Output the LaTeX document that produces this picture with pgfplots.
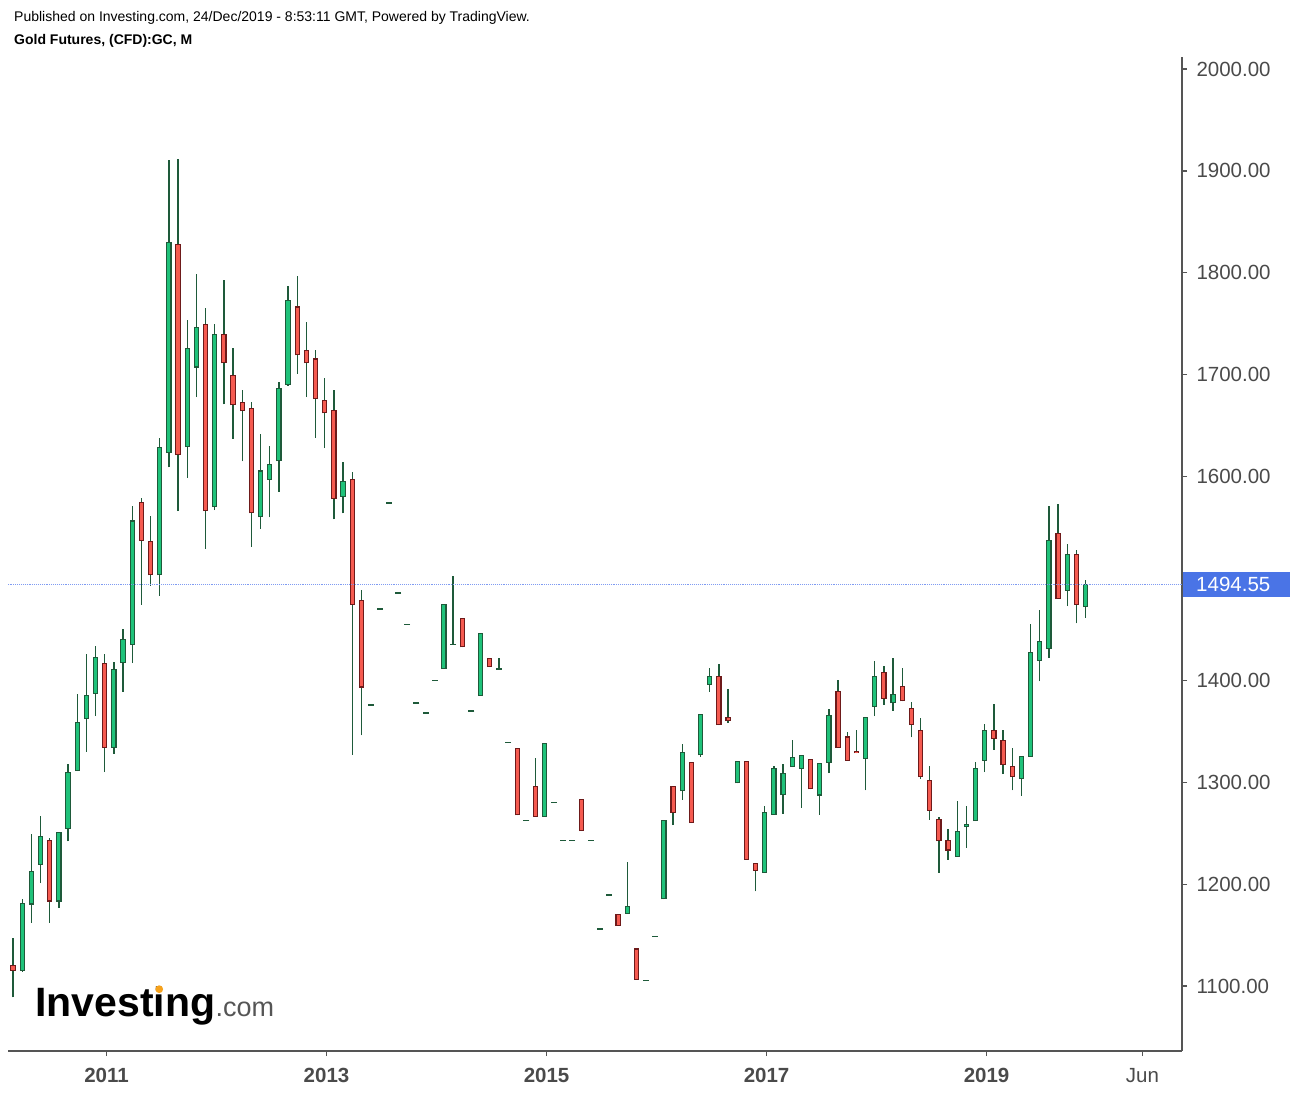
\documentclass[border=0pt]{standalone}
\usepackage{fontspec}
\setmainfont{Liberation Sans}
\usepackage{pgfplots}
\usepackage{pgfplotstable}
\pgfplotsset{compat=1.18}
\definecolor{wickc}{HTML}{1E5A3A}
\definecolor{upfill}{HTML}{1FC27A}
\definecolor{dnfill}{HTML}{F55A50}
\definecolor{dnedge}{HTML}{6E1A1A}
\definecolor{axgray}{HTML}{555555}
\definecolor{labgray}{HTML}{4A4A4A}
\definecolor{pricebl}{HTML}{4A74E6}
\definecolor{linebl}{HTML}{7F9BF2}
\definecolor{logoor}{HTML}{F7A21B}

% k = candle index (0 = Mar 2010, 117 = Dec 2019)
\pgfplotstableread{
k o h l c
1 1115 1185 1114 1182
2 1180 1249 1162 1213
3 1219 1267 1201 1247
5 1183 1251 1177 1251
6 1254 1318 1242 1310
7 1311 1387 1311 1359
8 1362 1426 1330 1386
9 1387 1434 1365 1423
11 1334 1418 1328 1411
12 1417 1450 1389 1441
13 1435 1571 1417 1557
16 1503 1638 1483 1629
17 1623 1911 1609 1830
19 1629 1754 1599 1726
20 1707 1799 1678 1747
22 1570 1750 1567 1740
27 1560 1642 1549 1606
28 1597 1630 1560 1612
29 1615 1693 1585 1687
30 1690 1787 1689 1773
36 1580 1614 1564 1596
47 1411 1475 1411 1475
51 1385 1447 1385 1447
58 1266 1339 1266 1339
67 1171 1222 1171 1178.6
71 1185 1263 1185 1263
73 1291 1338 1283 1329.5
75 1326.5 1367 1325 1367
76 1395.5 1412 1389 1404
79 1299 1321 1299 1321
82 1211 1277 1211 1271
83 1268 1316 1268 1314
84 1287.5 1318 1269 1309.5
85 1315 1341.5 1315 1325
86 1313 1327 1275 1327
88 1287 1319 1268 1319
89 1319 1372 1309 1366
93 1323 1364 1292 1364
94 1374 1419 1365 1404
96 1377.5 1422 1370 1386.6
103 1227 1282 1227 1252.5
104 1256 1277 1236 1259
105 1262 1320 1262 1314
106 1321 1357 1310 1351
110 1303 1325.5 1287 1325.5
111 1325 1455 1325 1428
112 1419 1469 1399 1439
113 1430.5 1571 1422 1537.5
115 1488 1534 1473 1524
117 1472 1498.5 1461.5 1494.55
}\updata

\pgfplotstableread{
k o h l c
0 1121 1147 1089 1115
4 1243 1245 1162 1183
10 1417 1426 1310 1334
14 1575 1579 1474 1537
15 1537 1561 1493 1503
18 1828 1912 1566 1621
21 1750 1765 1529 1566
23 1740 1793 1671 1711
24 1700 1726 1637 1670
25 1673 1685 1615 1664
26 1667 1673 1531 1564
31 1767 1797 1701 1719
32 1724 1752 1678 1711
33 1716 1724 1638 1676
34 1675 1697 1628 1662
35 1665 1685 1558 1578
37 1598 1605 1327 1474
38 1479 1489 1346 1393
49 1461 1461 1432.5 1432.5
52 1422 1422 1413 1413
55 1333.5 1333.5 1267.6 1267.6
57 1296 1324 1266 1266
62 1284 1284 1252 1252
66 1171 1171 1159 1159
68 1137 1137 1106 1106
72 1296 1296 1258 1270
74 1320 1320 1260 1260
77 1404 1416 1356 1356
78 1364 1392 1358 1360
80 1321 1321 1224 1224
81 1221 1221 1193 1213
87 1323 1323 1293 1293
90 1390 1400 1334 1334
91 1345 1349 1321 1321
92 1331 1351 1328.5 1328.5
95 1408 1414 1376 1381.5
97 1394.5 1412 1379.5 1379.5
98 1373 1379 1344 1356
99 1351 1363 1303 1305
100 1302 1316 1263 1272
101 1264 1266 1211 1242
102 1243 1254.5 1224 1233
107 1351 1377 1332 1342
108 1341.5 1351 1308 1317
109 1316 1334 1292 1305
114 1545 1573 1480 1480
116 1524 1528 1456 1474
}\dndata

\pgfplotstableread{
k v h
39 1376 1376
40 1470 1470
41 1574 1574
42 1486 1486
43 1455 1455
44 1378 1378
45 1368 1368
46 1400 1400
48 1435 1502.5
50 1370 1370
53 1411 1422
54 1339 1339
56 1262.4 1262.4
59 1280 1280
60 1242.7 1242.7
61 1242.7 1242.7
63 1242.7 1242.7
64 1156 1156
65 1189.4 1189.4
69 1105.4 1105.4
70 1148.6 1148.6
}\flatdata

\begin{document}
\begin{tikzpicture}[x=1bp,y=1bp]
\begin{axis}[
  at={(8bp,43bp)}, anchor=south west,
  width=1174bp, height=994bp, scale only axis,
  xmin=-0.549, xmax=127.52, ymin=1036.3, ymax=2011.8,
  axis x line*=bottom, axis y line*=right,
  axis line style={draw=axgray, line width=1.6bp},
  tick align=outside, major tick length=5bp,
  every tick/.style={draw=axgray, line width=1.3bp},
  xtick={10.2,34.2,58.2,82.2,106.2,123.2},
  xticklabels={2011,2013,2015,2017,2019,\mdseries Jun},
  xticklabel style={font=\fontsize{20.5bp}{24bp}\selectfont\bfseries, text=labgray, yshift=-9bp},
  ytick={1100,1200,1300,1400,1500,1600,1700,1800,1900,2000},
  yticklabels={1100.00,1200.00,1300.00,1400.00,,1600.00,1700.00,1800.00,1900.00,2000.00},
  yticklabel style={font=\fontsize{20.5bp}{24bp}\selectfont, text=labgray, anchor=west, xshift=6bp},
  minor tick num=0,
]
% wicks
\addplot[draw=none, mark=none, forget plot, error bars/.cd, y dir=plus, y explicit, error mark=none,
  error bar style={draw=wickc, line width=1.3bp}]
  table[x=k, y=l, y error plus expr=\thisrow{h}-\thisrow{l}] {\updata};
\addplot[draw=none, mark=none, forget plot, error bars/.cd, y dir=plus, y explicit, error mark=none,
  error bar style={draw=wickc, line width=1.3bp}]
  table[x=k, y=l, y error plus expr=\thisrow{h}-\thisrow{l}] {\dndata};
\addplot[draw=none, mark=none, forget plot, error bars/.cd, y dir=plus, y explicit, error mark=none,
  error bar style={draw=wickc, line width=1.3bp}]
  table[x=k, y=v, y error plus expr=\thisrow{h}-\thisrow{v}] {\flatdata};
% bodies: outline
\addplot[draw=none, mark=none, forget plot, error bars/.cd, y dir=plus, y explicit, error mark=none,
  error bar style={draw=wickc, line width=5.4bp}]
  table[x=k, y=o, y error plus expr=\thisrow{c}-\thisrow{o}] {\updata};
\addplot[draw=none, mark=none, forget plot, error bars/.cd, y dir=plus, y explicit, error mark=none,
  error bar style={draw=dnedge, line width=5.4bp}]
  table[x=k, y=c, y error plus expr=\thisrow{o}-\thisrow{c}] {\dndata};
% bodies: fill
\addplot[draw=none, mark=none, forget plot, error bars/.cd, y dir=plus, y explicit, error mark=none,
  error bar style={draw=upfill, line width=3.1bp}]
  table[x=k, y expr=\thisrow{o}+1.1, y error plus expr=\thisrow{c}-\thisrow{o}-2.2] {\updata};
\addplot[draw=none, mark=none, forget plot, error bars/.cd, y dir=plus, y explicit, error mark=none,
  error bar style={draw=dnfill, line width=3.1bp}]
  table[x=k, y expr=\thisrow{c}+1.1, y error plus expr=\thisrow{o}-\thisrow{c}-2.2] {\dndata};
% flat candles (open = close)
\addplot[only marks, mark=-, mark size=3bp, mark options={draw=wickc, line width=1.5bp}, forget plot]
  table[x=k, y=v] {\flatdata};
% last price line
\addplot[linebl, densely dotted, line width=0.9bp, forget plot] coordinates {(-1,1494.55) (130,1494.55)};
\coordinate (lastpx) at (axis cs:127.52,1494.55);
\end{axis}
\node[fill=pricebl, text=white, anchor=west, inner xsep=0pt, inner ysep=0pt,
  minimum height=25bp, font=\fontsize{20.5bp}{24bp}\selectfont]
  at ([xshift=1bp]lastpx) {\makebox[108bp][l]{\hspace*{13bp}1494.55}};
% header
\node[anchor=base west, inner sep=0pt, font=\fontsize{14bp}{16bp}\selectfont, text=black]
  at (14bp,1072bp) {Published on Investing.com, 24/Dec/2019 - 8:53:11 GMT, Powered by TradingView.};
\node[anchor=base west, inner sep=0pt, font=\fontsize{14bp}{16bp}\selectfont\bfseries, text=black]
  at (14bp,1049bp) {Gold Futures, (CFD):GC, M};
% watermark logo
\node[anchor=base west, inner sep=0pt, text=black, font=\fontsize{41bp}{45bp}\selectfont\bfseries]
  (inv) at (35bp,77bp) {Investing};
\node[anchor=base west, inner sep=0pt, text=axgray, font=\fontsize{27bp}{30bp}\selectfont]
  at (inv.base east) {.com};
\fill[logoor] (159.2bp,104.8bp) circle[radius=3.9bp];
\pgfresetboundingbox
\useasboundingbox (0,0) rectangle (1290bp,1094bp);
\end{tikzpicture}
\end{document}
